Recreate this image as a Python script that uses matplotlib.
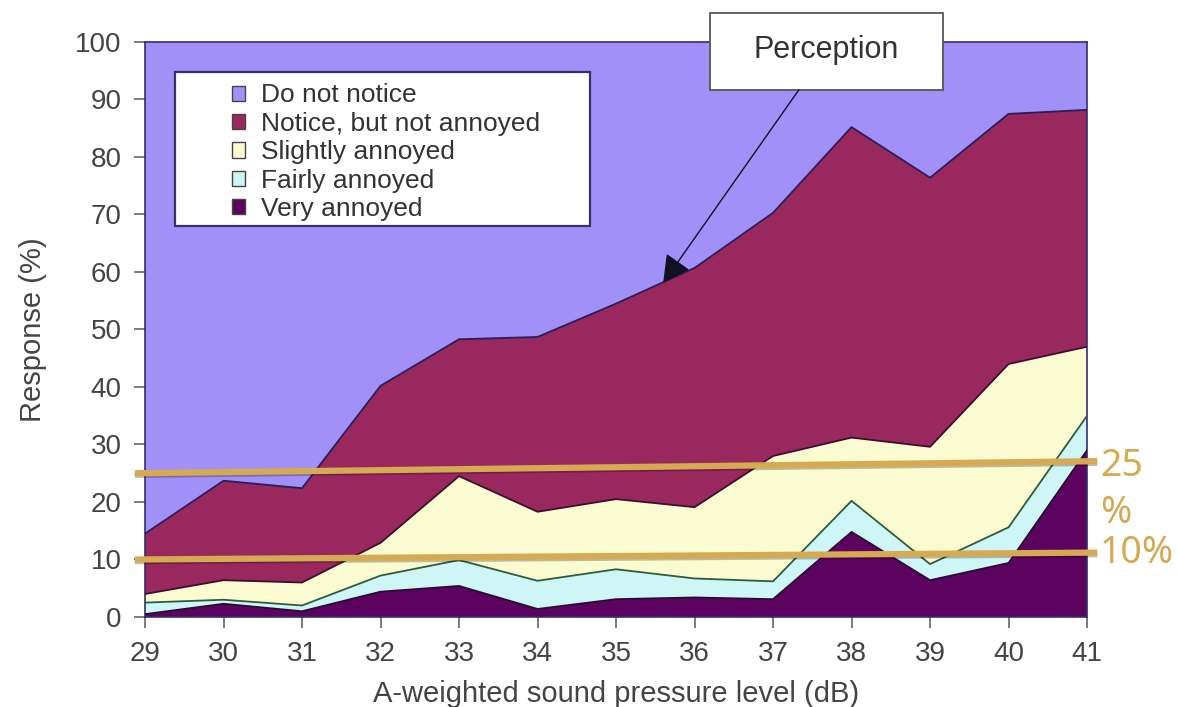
import matplotlib
matplotlib.use("Agg")
import matplotlib.pyplot as plt
import matplotlib.patheffects as pe
from matplotlib.patches import Patch, Rectangle
import numpy as np

plt.rcParams['font.family'] = ['Liberation Sans', 'DejaVu Sans']

# sound level (dB) and response share per category (%)
LEVELS = [29, 30, 31, 32, 33, 34, 35, 36, 37, 38, 39, 40, 41]
VERY = [0.5, 2.3, 1.0, 4.4, 5.4, 1.4, 3.1, 3.4, 3.1, 14.8, 6.4, 9.4, 29.0]
FAIRLY = [2.0, 0.7, 1.0, 2.8, 4.5, 4.9, 5.2, 3.3, 3.1, 5.4, 2.8, 6.2, 6.0]
SLIGHTLY = [1.5, 3.4, 4.0, 5.7, 14.6, 12.0, 12.2, 12.4, 21.8, 11.0, 20.4, 28.4, 12.0]
NOTICE = [10.5, 17.3, 16.4, 27.3, 23.8, 30.4, 34.0, 41.6, 42.3, 54.0, 46.8, 43.5, 41.2]
NOT_NOTICE = [85.5, 76.3, 77.6, 59.8, 51.7, 51.3, 45.5, 39.3, 29.7, 14.8, 23.6, 12.5, 11.8]

LABELS = ["Do not notice", "Notice, but not annoyed", "Slightly annoyed",
          "Fairly annoyed", "Very annoyed"]
COLORS = ['#A190F7', '#99285E', '#FBFBD2', '#CFF6F7', '#5C0360']

# hand-drawn threshold guides: value at left end, value at right end, text
GUIDE_LEFT = [25.0, 10.0]
GUIDE_RIGHT = [27.1, 11.2]
GUIDE_TEXT = ["25\n%", "10%"]
GOLD = '#D6AA52'


def plot_response():
    fig = plt.figure(figsize=(11.78, 7.07), dpi=100)
    ax = fig.add_axes([0.1231, 0.1273, 0.7997, 0.8133])

    layers = [VERY, FAIRLY, SLIGHTLY, NOTICE, NOT_NOTICE]
    ax.stackplot(LEVELS, *layers, colors=COLORS[::-1], linewidth=0)

    # boundary lines between the stacked bands
    tops = np.cumsum(np.array(layers[:4]), axis=0)
    edge_colors = ['#2b0a33', '#2f5b3c', '#3b0f2c', '#2a1d58']
    for top, ec in zip(tops, edge_colors):
        ax.plot(LEVELS, top, color=ec, linewidth=1.3, zorder=3)

    ax.set_xlim(29, 41)
    ax.set_ylim(0, 100)
    ax.set_xticks(LEVELS)
    ax.set_yticks(range(0, 101, 10))
    ax.tick_params(direction='out', length=8, width=1.2, color='#666',
                   labelsize=20, labelcolor='#444', pad=9)
    for s in ax.spines.values():
        s.set_color('#34306a')
        s.set_linewidth(1.2)

    ax.set_xlabel('A-weighted sound pressure level (dB)', fontsize=21,
                  color='#444', labelpad=10)
    ax.set_ylabel('Response (%)', fontsize=21, color='#444', labelpad=20)

    # legend with its own wide frame
    ax.add_patch(Rectangle((0.0318, 0.680), 0.4406, 0.2678, transform=ax.transAxes,
                           facecolor='white', edgecolor='#34306a', linewidth=1.6,
                           zorder=4))
    handles = [Patch(facecolor=c, edgecolor='#444', linewidth=1.0) for c in COLORS]
    leg = ax.legend(handles, LABELS, loc='upper left', bbox_to_anchor=(0.092, 0.928),
                    frameon=False, fontsize=19, labelspacing=0.17,
                    handlelength=0.5, handleheight=0.5, handletextpad=0.6,
                    borderpad=0, borderaxespad=0)
    leg.set_zorder(5)
    for t in leg.get_texts():
        t.set_color('#333')

    # "Perception" callout
    ax.add_patch(Rectangle((36.20, 91.7), 2.97, 13.3, facecolor='white',
                           edgecolor='#555', linewidth=1.3, clip_on=False, zorder=6))
    ax.text(37.68, 98.6, 'Perception', fontsize=22, color='#333',
            ha='center', va='center', zorder=7, clip_on=False)
    ax.annotate('', xy=(35.60, 58.1), xytext=(37.33, 91.7),
                arrowprops=dict(arrowstyle='-|>,head_length=0.85,head_width=0.45',
                                color='#111122', lw=1.0, mutation_scale=20,
                                shrinkA=0, shrinkB=0),
                zorder=6, annotation_clip=False)

    # gold threshold guides
    for y0, y1, txt in zip(GUIDE_LEFT, GUIDE_RIGHT, GUIDE_TEXT):
        ax.plot([28.87, 41.13], [y0, y1], color=GOLD, linewidth=4.5,
                solid_capstyle='butt', clip_on=False, zorder=8,
                path_effects=[pe.SimpleLineShadow(offset=(0, -1.2), alpha=0.25),
                              pe.Normal()])
        multi = '\n' in txt
        ax.annotate(txt, xy=(41.13, y1), xytext=(2, 10 if multi else 0),
                    textcoords='offset points',
                    fontsize=27, color=GOLD, family=['Noto Sans', 'DejaVu Sans'],
                    ha='left', va='top' if multi else 'center',
                    linespacing=1.3, annotation_clip=False)

    fig.savefig('out.png', dpi=100)


if __name__ == "__main__":
    plot_response()
